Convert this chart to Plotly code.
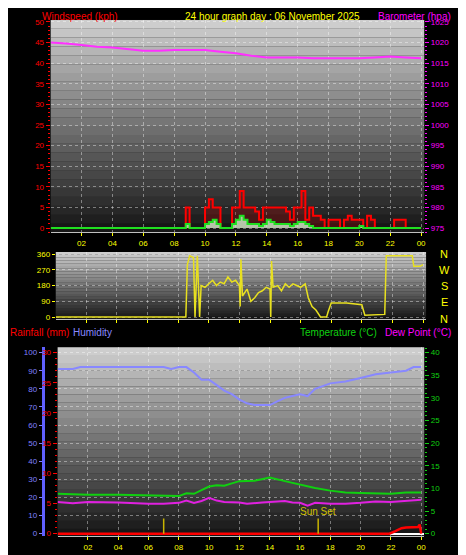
import plotly.graph_objects as go

# ---------------- data ----------------
baro_t = list(range(25))
baro = [1020, 1019.8, 1019.4, 1019, 1018.8, 1018.4, 1018, 1018, 1018.2, 1018.2, 1018.2, 1017.8, 1017.4,
        1016.8, 1016.4, 1016.4, 1016.4, 1016.2, 1016.2, 1016.2, 1016.2, 1016.4, 1016.6, 1016.4, 1016.2]

wind_t = [0, 8.5] + [8.5 + 0.25 * i for i in range(1, 63)]
gust = [0, 0, 5, 0, 0, 0, 0, 5, 7, 5, 5, 0, 0, 0, 5, 5, 9, 5, 5, 5, 4, 2, 5, 5, 5, 5, 5, 5, 4, 2, 5, 5, 9, 2, 5,
        3, 3, 2, 0, 2, 2, 2, 0, 2, 3, 2, 2, 2, 0, 3, 2, 0, 0, 0, 0, 0, 2, 2, 2, 0, 0, 0, 0, 0]
avg = [0, 0, 1, 0, 0, 0, 0, 1, 1.5, 2, 1, 0, 0, 0, 1, 2, 3, 2, 1, 1, 1, 0.5, 1, 2, 1.5, 1, 1, 1, 1, 0.5, 1, 1.5,
       1.5, 1, 0.5, 0, 0, 0, 0, 0, 0, 0, 0, 0, 0, 0, 0, 0.5, 0, 0, 0, 0, 0, 0, 0, 0, 0, 0, 0, 0, 0, 0, 0, 0]

dir_t = [0, 8.5, 8.6, 8.75, 9.0, 9.1, 9.25, 9.4, 9.5, 9.75, 10, 10.25, 10.5, 10.75, 11, 11.25, 11.5, 11.75, 12,
         12.05, 12.1, 12.2, 12.5, 12.75, 13, 13.25, 13.5, 13.75, 14, 14.05, 14.1, 14.2, 14.5, 14.75, 15, 15.25,
         15.5, 15.75, 16, 16.3, 16.5, 16.75, 17, 17.3, 17.7, 17.8, 18, 19, 19.5, 20, 20.2, 21, 21.5, 21.6, 23.3,
         23.4, 23.8, 24]
wdir = [0, 0, 300, 350, 340, 0, 350, 0, 180, 170, 190, 210, 180, 200, 190, 230, 200, 210, 180, 60, 330, 120,
        160, 90, 110, 140, 150, 170, 160, 0, 320, 170, 180, 150, 190, 170, 190, 180, 170, 190, 110, 60, 40, 0,
        0, 30, 80, 80, 75, 70, 10, 15, 15, 350, 350, 290, 290, 300]

hum_t = [0, 1, 1.5, 2, 4, 6, 7, 7.5, 8, 8.5, 9, 9.5, 10, 10.5, 11, 11.5, 12, 12.5, 13, 13.5, 14, 14.5, 15, 15.5,
         16, 16.5, 17, 18, 19, 20, 21, 22, 23, 23.5, 24]
hum = [91, 91, 92, 92, 92, 92, 92, 91, 92, 92, 89, 85, 85, 82, 79, 77, 74, 72, 71, 71, 71, 73, 75, 76, 77, 76,
       80, 83, 84, 86, 88, 89, 90, 92, 92]

temp_t = [0, 2, 4, 6, 7, 7.5, 8, 8.5, 9, 9.5, 10, 10.5, 11, 11.5, 12, 13, 13.5, 14, 15, 16, 17, 18, 19, 20, 21,
          22, 23, 24]
temp = [8.8, 8.6, 8.6, 8.4, 8.3, 8.2, 8.3, 8.9, 8.8, 9.6, 10.4, 10.7, 10.6, 11.1, 11.6, 11.7, 12.0, 12.4, 11.6,
        10.8, 10.1, 9.5, 9.1, 9.0, 8.9, 8.8, 9.1, 9.1]

dew_t = [0, 1, 2, 4, 6, 7, 8, 8.5, 9, 9.5, 10, 10.5, 11, 12, 12.5, 13, 13.5, 14, 15, 15.5, 16, 16.5, 17, 18, 19,
         20, 21, 22, 23, 24]
dew = [7.0, 6.7, 7.0, 6.9, 6.6, 6.6, 6.8, 7.3, 6.8, 7.2, 7.9, 7.3, 7.0, 6.9, 6.6, 6.8, 6.9, 7.0, 7.2, 6.9, 6.8,
       6.2, 6.8, 6.6, 6.6, 6.8, 7.1, 7.0, 7.3, 7.5]

rain_t = [0, 21.9, 22.3, 22.7, 23.0, 23.8, 23.9, 24]
rain = [0, 0, 0.4, 0.9, 1.0, 1.1, 1.5, 0]

sun_times = [7.0, 17.2]
sun_labels = ["", "Sun Set"]

tick_vals = [2, 4, 6, 8, 10, 12, 14, 16, 18, 20, 22, 24]
tick_text = ["02", "04", "06", "08", "10", "12", "14", "16", "18", "20", "22", "00"]

# ---------------- figure ----------------
FONT = "Liberation Sans"
YEL = "#ffff00"
fig = go.Figure()

fig.add_trace(go.Scatter(x=baro_t, y=baro, yaxis="y2", mode="lines", line=dict(color="#ff30ff", width=2)))
fig.add_trace(go.Scatter(x=wind_t, y=gust, mode="lines", fill="tozeroy", fillcolor="rgba(200,0,0,0.25)",
                         line=dict(color="#ff0000", width=2, shape="hv")))
fig.add_trace(go.Scatter(x=wind_t, y=avg, mode="lines", fill="tozeroy", fillcolor="rgba(220,255,220,0.75)",
                         line=dict(color="#20e020", width=2, shape="hv")))
fig.add_trace(go.Scatter(x=dir_t, y=wdir, xaxis="x2", yaxis="y3", mode="lines",
                         line=dict(color="#e8e020", width=1.5)))
fig.add_trace(go.Scatter(x=hum_t, y=hum, xaxis="x3", yaxis="y4", mode="lines", line=dict(color="#8888ff", width=2)))
fig.add_trace(go.Scatter(x=temp_t, y=temp, xaxis="x3", yaxis="y6", mode="lines", line=dict(color="#10d010", width=2)))
fig.add_trace(go.Scatter(x=dew_t, y=dew, xaxis="x3", yaxis="y6", mode="lines", line=dict(color="#e020e0", width=2)))
fig.add_trace(go.Scatter(x=rain_t, y=rain, xaxis="x3", yaxis="y5", mode="lines", line=dict(color="#ff0000", width=2.5)))
for t, lab in zip(sun_times, sun_labels):
    fig.add_trace(go.Scatter(x=[t, t], y=[0, 2.5], xaxis="x3", yaxis="y5", mode="lines",
                             line=dict(color="#c8b400", width=1.5)))
    if lab:
        fig.add_annotation(x=t, y=2.5, xref="x3", yref="y5", text=lab, showarrow=False, yanchor="bottom",
                           font=dict(color="#d0c000", size=10, family=FONT))

N = 24
for xr, yr in [("x", "y"), ("x2", "y3"), ("x3", "y4")]:
    for i in range(N):
        f = i / N
        c = int(16 + (205 - 16) * (f + 1 / N))
        fig.add_shape(type="rect", xref=f"{xr} domain", yref=f"{yr} domain",
                      x0=0, x1=1, y0=f, y1=f + 1 / N, fillcolor=f"rgb({c},{c},{c})", line_width=0, layer="below")

grid = dict(showgrid=True, gridcolor="rgba(255,255,255,0.4)", griddash="dot", zeroline=False)
tickf = dict(size=8, family=FONT)
xcommon = dict(range=[0, 24.2], tickvals=tick_vals, ticktext=tick_text, tickfont=dict(color=YEL, **tickf),
               ticks="outside", ticklen=3, tickcolor=YEL, showline=True, linecolor="#c0c0c0", **grid)

fig.update_layout(
    width=466, height=555, margin=dict(l=0, r=0, t=0, b=0), paper_bgcolor="black", plot_bgcolor="#202020",
    showlegend=False,
    xaxis=dict(domain=[0.092, 0.897], anchor="y", **xcommon),
    yaxis=dict(domain=[0.596, 0.982], range=[-1, 50.5], tickvals=list(range(0, 51, 5)),
               tickfont=dict(color="#ff0000", **tickf), ticks="outside", tickcolor="#ff0000", ticklen=4,
               minor=dict(ticks="outside", ticklen=2, tickcolor="#ff0000", dtick=1), **grid),
    yaxis2=dict(overlaying="y", side="right", anchor="x", range=[974, 1025.5], tickvals=list(range(975, 1026, 5)),
                tickfont=dict(color="#ff00ff", **tickf), ticks="outside", tickcolor="#ff00ff", ticklen=4,
                minor=dict(ticks="outside", ticklen=2, tickcolor="#ff00ff", dtick=1), showgrid=False),
    xaxis2=dict(domain=[0.103, 0.901], anchor="y3", showticklabels=False,
                **{k: v for k, v in xcommon.items() if k != "tickfont"}),
    yaxis3=dict(domain=[0.438, 0.560], anchor="x2", range=[-12, 372], tickvals=[0, 90, 180, 270, 360],
                tickfont=dict(color=YEL, **tickf), ticks="outside", tickcolor=YEL, ticklen=3, **grid),
    xaxis3=dict(domain=[0.107, 0.897], anchor="y4", **xcommon),
    yaxis4=dict(domain=[0.043, 0.387], anchor="free", position=0.075, range=[-1.5, 103],
                tickvals=list(range(0, 101, 10)), tickfont=dict(color="#8080ff", **tickf), showline=True,
                linecolor="#6060ff", linewidth=3, ticks="outside", tickcolor="#8080ff", ticklen=3, **grid),
    yaxis5=dict(overlaying="y4", anchor="x3", side="left", range=[-0.45, 30.9], tickvals=list(range(0, 31, 5)),
                tickfont=dict(color="#ff0000", **tickf), ticks="outside", tickcolor="#ff0000", ticklen=4,
                minor=dict(ticks="outside", ticklen=2, tickcolor="#ff0000", dtick=1), showgrid=False),
    yaxis6=dict(overlaying="y4", anchor="x3", side="right", range=[-0.6, 41.2], tickvals=list(range(0, 41, 5)),
                tickfont=dict(color="#10d010", **tickf), ticks="outside", tickcolor="#10d010", ticklen=4,
                minor=dict(ticks="outside", ticklen=2, tickcolor="#10d010", dtick=1), showgrid=False),
)

def label(x, y, text, color, anchor="left", size=10):
    fig.add_annotation(x=x, y=y, xref="paper", yref="paper", text=text, showarrow=False, xanchor=anchor,
                       yanchor="middle", font=dict(color=color, size=size, family=FONT))

label(0.07, 0.989, "Windspeed (kph)", "#ff0000")
label(0.57, 0.989, "24 hour graph day : 06 November 2025", YEL, "center")
label(0.96, 0.989, "Barometer (hpa)", "#ff00ff", "right")
label(0.0, 0.413, "Rainfall (mm)", "#ff0000")
label(0.135, 0.413, "Humidity", "#8888ff")
label(0.80, 0.413, "Temperature (°C)", "#10d010", "right")
label(0.96, 0.413, "Dew Point (°C)", "#ff00ff", "right")
for i, d in enumerate(["N", "W", "S", "E", "N"]):
    label(0.94, 0.557 - i * 0.0295, d, YEL, "center", 11)

fig.write_html("out.html")
